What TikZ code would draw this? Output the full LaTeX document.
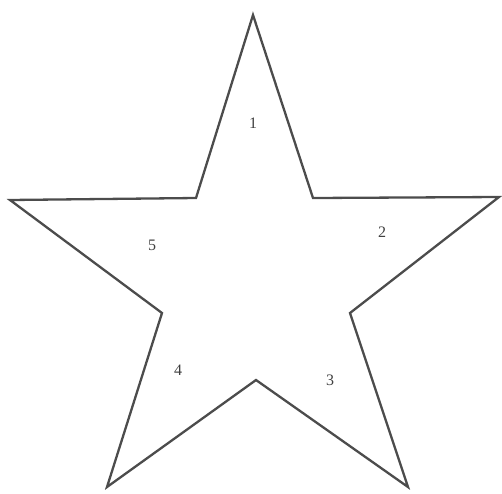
\documentclass[tikz,border=0pt]{standalone}
\usepackage{fontspec}
\setmainfont{Liberation Serif}
\begin{document}
\begin{tikzpicture}[x=1pt,y=-1pt,
  starline/.style={draw=black!70, line width=2.3pt, line join=miter},
  lbl/.style={font=\fontsize{16}{16}\selectfont, text=black!75, inner sep=0pt}]
\useasboundingbox (0,0) rectangle (502,493);
\coordinate (T) at (253,15);
\coordinate (IR) at (313,198);
\coordinate (R) at (499,197);
\coordinate (IRB) at (350,313);
\coordinate (BR) at (408,487);
\coordinate (IB) at (256,380);
\coordinate (BL) at (107,487);
\coordinate (ILB) at (162,313);
\coordinate (L) at (10,200);
\coordinate (IL) at (196,198);
\draw[starline] (T) -- (IR) -- (R) -- (IRB) -- (BR) -- (IB) -- (BL) -- (ILB) -- (L) -- (IL) -- cycle;
\node[lbl] (n1) at (253,123) {1};
\node[lbl] (n2) at (382,232) {2};
\node[lbl] (n3) at (330,380) {3};
\node[lbl] (n4) at (178,370) {4};
\node[lbl] (n5) at (152,245) {5};
\end{tikzpicture}
\end{document}
